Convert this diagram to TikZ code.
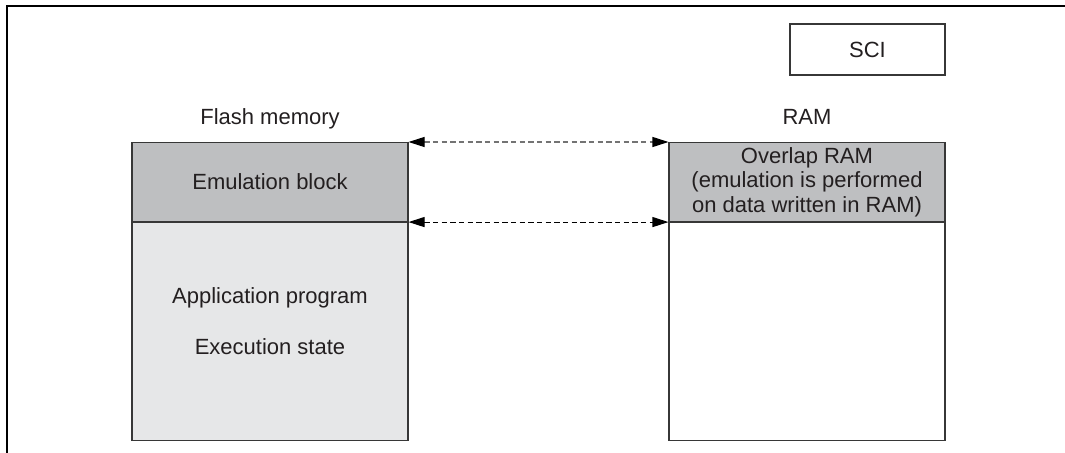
\documentclass[tikz,border=0pt]{standalone}
\usepackage{fontspec}
\setmainfont{Liberation Sans}
\usepackage{xcolor}
\usepackage{tikz}
\usetikzlibrary{positioning,arrows.meta}

\definecolor{emugray}{RGB}{190,191,193}
\definecolor{appgray}{RGB}{230,231,232}
\definecolor{edgegray}{RGB}{55,55,55}
\definecolor{ink}{RGB}{35,31,32}

\begin{document}
\begin{tikzpicture}[
    x=0.75pt,y=-0.75pt,
    font=\fontsize{16.5}{18.5}\selectfont,
    text=ink,
    area/.style={draw=edgegray,line width=0.8pt,align=center,minimum width=207pt,inner sep=0pt,anchor=north},
    lbl/.style={anchor=base,inner sep=0pt},
    link/.style={{Triangle[length=12pt,width=7.5pt,color=black]}-{Triangle[length=12pt,width=7.5pt,color=black]},line width=0.8pt,dash pattern=on 4pt off 2.5pt}
  ]
    \useasboundingbox (0,0) rectangle (1065,453);
    \draw[line width=1.5pt] (7,453) -- (7,6.5) -- (1065,6.5);

    \node[draw=edgegray,line width=0.8pt,minimum width=116.25pt,minimum height=38.25pt] (sci) at (867.5,49.5) {SCI};

    \node[area,fill=emugray,minimum height=59.25pt] (emu) at (270,142) {Emulation block};
    \node[area,fill=appgray,minimum height=163.5pt,below=0pt of emu] (app) {};
    \node[area,fill=emugray,minimum height=59.25pt] (ovl) at (807,142) {Overlap RAM\\(emulation is performed\\on data written in RAM)};
    \node[area,minimum height=163.5pt,below=0pt of ovl] (ramfree) {};

    \node[lbl] (flashlbl) at ([yshift=12.75pt]emu.north) {Flash memory};
    \node[lbl] (ramlbl) at ([yshift=12.75pt]ovl.north) {RAM};
    \node[lbl] (apptxt) at (270,303) {Application program};
    \node[lbl] (exectxt) at (270,354) {Execution state};

    \draw[link,draw=black!55] (emu.north east) -- (ovl.north west);
    \draw[link] (emu.south east) -- (ovl.south west);
  \end{tikzpicture}
\end{document}
